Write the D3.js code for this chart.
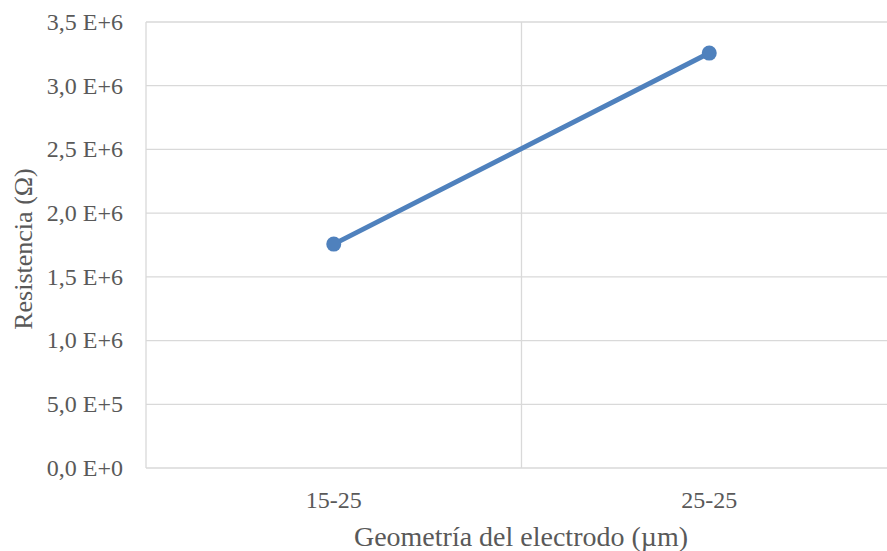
<!DOCTYPE html>
<html><head><meta charset="utf-8">
<script src="https://cdn.jsdelivr.net/npm/d3@7"></script>
<style>body{margin:0;background:#fff;overflow:hidden}</style>
</head><body>
<svg id="c" width="887" height="551"></svg>
<script>
const categories = ["15-25", "25-25"];
const resistance = [1.757e6, 3.256e6];
const yTicks = [0, 5e5, 1e6, 1.5e6, 2e6, 2.5e6, 3e6, 3.5e6];
const yTickLabels = ["0,0 E+0","5,0 E+5","1,0 E+6","1,5 E+6","2,0 E+6","2,5 E+6","3,0 E+6","3,5 E+6"];

(function () {
const svg = d3.select("#c");
const mLeft = 146, mTop = 22, mBottom = 468, bandW = 375.5;
const mRight = mLeft + bandW * categories.length;
const font = "'Liberation Serif', serif";
const txt = "#595959", grid = "#d9d9d9";

const x = d3.scaleBand().domain(categories).range([mLeft, mRight]).paddingInner(0).paddingOuter(0);
const y = d3.scaleLinear().domain([0, 3.5e6]).range([mBottom, mTop]);

svg.append("g").selectAll("line").data(yTicks).join("line")
  .attr("x1", mLeft).attr("x2", mRight)
  .attr("y1", d => y(d)).attr("y2", d => y(d))
  .attr("stroke", grid).attr("stroke-width", 1.3);

const bounds = categories.map(c => x(c));
svg.append("g").selectAll("line").data(bounds).join("line")
  .attr("x1", d => d).attr("x2", d => d)
  .attr("y1", mTop).attr("y2", mBottom)
  .attr("stroke", grid).attr("stroke-width", 1.3);

svg.append("g").selectAll("text").data(yTicks).join("text")
  .attr("x", 123).attr("y", d => y(d)).attr("dy", "0.33em")
  .attr("text-anchor", "end").attr("fill", txt)
  .style("font-family", font).style("font-size", "24px")
  .text((d, i) => yTickLabels[i]);

svg.append("g").selectAll("text").data(categories).join("text")
  .attr("x", d => x(d) + x.bandwidth() / 2).attr("y", 500).attr("dy", "0.33em")
  .attr("text-anchor", "middle").attr("fill", txt)
  .style("font-family", font).style("font-size", "24px")
  .text(d => d);

svg.append("text").attr("x", 521).attr("y", 537).attr("dy", "0.33em")
  .attr("text-anchor", "middle").attr("fill", txt)
  .style("font-family", font).style("font-size", "28px")
  .text("Geometría del electrodo (µm)");
svg.append("text").attr("transform", "translate(23,249) rotate(-90)").attr("dy", "0.33em")
  .attr("text-anchor", "middle").attr("fill", txt)
  .style("font-family", font).style("font-size", "26px")
  .text("Resistencia (Ω)");

const pts = categories.map((c, i) => [x(c) + x.bandwidth() / 2, y(resistance[i])]);
svg.append("path").attr("d", d3.line()(pts))
  .attr("fill", "none").attr("stroke", "#4f81bd").attr("stroke-width", 5).attr("stroke-linecap", "round");
svg.append("g").selectAll("circle").data(pts).join("circle")
  .attr("cx", d => d[0]).attr("cy", d => d[1]).attr("r", 7.5).attr("fill", "#4f81bd");
})();
</script>
</body></html>
